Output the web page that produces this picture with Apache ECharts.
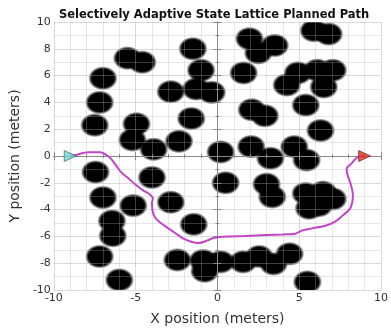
<!DOCTYPE html>
<html>
<head>
<meta charset="utf-8">
<script src="https://cdn.jsdelivr.net/npm/echarts@6/dist/echarts.min.js"></script>
<style>
  html, body { margin: 0; padding: 0; background: #fff; }
  #chart { width: 391px; height: 331px; }
</style>
</head>
<body>
<div id="chart"></div>
<script>
// obstacle centres (meters)
const obstacles = [
  [1.96, 8.75], [3.5, 8.25], [2.5, 7.7],
  [5.9, 9.35], [6.8, 9.1],
  [-1.5, 8.0],
  [-5.5, 7.3], [-4.6, 7.0],
  [-7.0, 5.8],
  [-1.0, 6.4], [-1.3, 5.0], [-0.35, 4.75], [-2.85, 4.8],
  [1.6, 6.2],
  [4.24, 5.3], [4.92, 6.2], [6.1, 6.4], [7.05, 6.4], [6.5, 5.15], [5.4, 3.8],
  [-7.2, 4.0],
  [-7.5, 2.3],
  [-4.95, 2.4], [-5.2, 1.2], [-3.9, 0.5], [-2.35, 1.1], [-1.6, 2.8],
  [2.1, 3.45], [2.9, 3.0],
  [6.3, 1.9],
  [0.2, 0.3],
  [2.06, 0.7], [3.24, -0.17], [4.7, 0.7], [5.45, -0.3],
  [-7.45, -1.2],
  [-4.0, -1.6],
  [0.5, -2.0],
  [3.0, -2.1], [3.35, -3.05],
  [5.4, -2.8], [6.45, -2.7], [7.05, -3.2], [5.6, -3.9], [6.2, -3.7],
  [-7.0, -3.1],
  [-5.15, -3.7],
  [-2.85, -3.45],
  [-6.45, -4.85], [-6.4, -5.95],
  [-1.45, -5.1],
  [-7.2, -7.5],
  [-6.0, -9.25],
  [-2.45, -7.76], [-0.88, -7.8], [-0.78, -8.6], [0.2, -7.9], [1.57, -7.9],
  [2.55, -7.5], [3.43, -8.05], [4.41, -7.3],
  [5.5, -9.4]
];
const obstacleRadius = 0.9;

// planned path (meters)
const path = [
  [-9.0, 0.0], [-8.6, 0.1], [-7.9, 0.28], [-7.2, 0.28], [-6.6, -0.1],
  [-6.2, -0.7], [-5.9, -1.2], [-5.5, -1.6], [-5.0, -2.15], [-4.5, -2.6],
  [-4.15, -2.85], [-3.95, -3.15], [-4.0, -3.5], [-3.95, -4.2], [-3.75, -4.7],
  [-3.3, -5.15], [-2.7, -5.65], [-2.1, -6.15], [-1.6, -6.4], [-1.15, -6.5],
  [-0.6, -6.3], [-0.2, -6.1], [0.6, -6.0], [1.7, -5.97], [3.0, -5.9],
  [4.0, -5.85], [4.75, -5.8], [5.2, -5.55], [5.8, -5.4], [6.6, -5.2],
  [7.2, -4.9], [7.6, -4.5], [8.1, -3.95], [8.25, -3.4], [8.28, -2.9],
  [8.15, -2.1], [7.95, -1.4], [7.9, -0.95], [8.2, -0.55], [8.55, -0.1],
  [9.0, 0.0]
];

const startPoint = [-9.0, 0.0];
const goalPoint = [9.0, 0.0];

const xRange = [-10, 10];
const yRange = [-10, 10];
const xTickStep = 5;
const yTickStep = 2;

const chart = echarts.init(document.getElementById('chart'));

const font = 'DejaVu Sans';
const minorGrid = 'rgba(177,177,177,0.31)';
const majorGrid = 'rgba(162,162,162,0.4)';
const boxColor = '#8a8a8a';

const obstacleFill = new echarts.graphic.RadialGradient(0.5, 0.5, 0.5, [
  { offset: 0, color: '#000' },
  { offset: 0.76, color: '#000' },
  { offset: 0.88, color: 'rgba(0,0,0,0.55)' },
  { offset: 1, color: 'rgba(0,0,0,0)' }
]);

function boxAxis(extra) {
  return Object.assign({
    type: 'value',
    axisLine: { show: true, lineStyle: { color: boxColor, width: 1 } },
    axisTick: { show: true, inside: true, length: 4, lineStyle: { color: boxColor } },
    minorTick: { show: true, length: 2, lineStyle: { color: boxColor } },
    axisLabel: { show: false },
    splitLine: { show: false },
    minorSplitLine: { show: false },
    z: 5
  }, extra);
}

chart.setOption({
  animation: false,
  title: {
    text: 'Selectively Adaptive State Lattice Planned Path',
    left: 54,
    top: 3,
    textStyle: { fontFamily: font, fontSize: 11.5, fontWeight: 'bold', color: '#111', lineHeight: 14 }
  },
  grid: { left: 45, right: 6, top: 22, bottom: 41 },
  xAxis: [
    boxAxis({
      min: xRange[0], max: xRange[1], interval: xTickStep,
      position: 'bottom',
      minorTick: { show: true, splitNumber: 5, length: 2, lineStyle: { color: boxColor } },
      axisLabel: { show: true, margin: 3, fontFamily: font, fontSize: 11, color: '#333' },
      splitLine: { show: true, lineStyle: { color: majorGrid, width: 1 } },
      minorSplitLine: { show: true, lineStyle: { color: minorGrid, width: 1 } },
      name: 'X position (meters)',
      nameLocation: 'middle',
      nameGap: 22,
      nameTextStyle: { fontFamily: font, fontSize: 14, color: '#333' }
    }),
    boxAxis({
      min: xRange[0], max: xRange[1], interval: xTickStep,
      position: 'top',
      minorTick: { show: true, splitNumber: 5, length: 2, lineStyle: { color: boxColor } }
    })
  ],
  yAxis: [
    boxAxis({
      min: yRange[0], max: yRange[1], interval: yTickStep,
      position: 'left',
      minorTick: { show: true, splitNumber: 2, length: 2, lineStyle: { color: boxColor } },
      axisLabel: { show: true, margin: 3, fontFamily: font, fontSize: 11, color: '#333' },
      splitLine: { show: true, lineStyle: { color: majorGrid, width: 1 } },
      minorSplitLine: { show: true, lineStyle: { color: minorGrid, width: 1 } },
      name: 'Y position (meters)',
      nameLocation: 'middle',
      nameGap: 28,
      nameTextStyle: { fontFamily: font, fontSize: 14, color: '#333' }
    }),
    boxAxis({
      min: yRange[0], max: yRange[1], interval: yTickStep,
      position: 'right',
      minorTick: { show: true, splitNumber: 2, length: 2, lineStyle: { color: boxColor } }
    })
  ],
  series: [
    {
      type: 'custom',
      z: 2,
      data: obstacles,
      renderItem: function (params, api) {
        const c = api.coord([api.value(0), api.value(1)]);
        const s = api.size([obstacleRadius, obstacleRadius]);
        const cs = params.coordSys;
        // circle in data units -> ellipse on screen; scale so the gradient follows it
        return {
          type: 'group',
          clipPath: { type: 'rect', shape: { x: cs.x, y: cs.y, width: cs.width, height: cs.height } },
          children: [{
            type: 'circle',
            x: c[0],
            y: c[1],
            scaleX: s[0] / s[1],
            shape: { cx: 0, cy: 0, r: s[1] },
            style: { fill: obstacleFill }
          }]
        };
      }
    },
    {
      type: 'line',
      z: 10,
      data: path,
      smooth: 0.3,
      symbol: 'none',
      lineStyle: { color: '#c444c8', width: 2 }
    },
    {
      type: 'scatter',
      z: 11,
      data: [startPoint],
      symbol: 'triangle',
      symbolSize: [11, 12],
      symbolRotate: -90,
      itemStyle: { color: '#6fd8d0', borderColor: '#2a5a58', borderWidth: 0.8 }
    },
    {
      type: 'scatter',
      z: 11,
      data: [goalPoint],
      symbol: 'triangle',
      symbolSize: [11, 12],
      symbolRotate: -90,
      itemStyle: { color: '#e2301e', borderColor: '#5a1a10', borderWidth: 0.8 }
    }
  ]
});
</script>
</body>
</html>
